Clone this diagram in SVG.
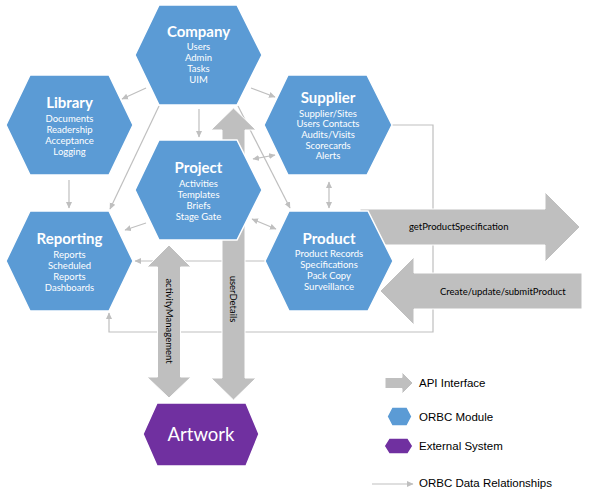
<svg xmlns="http://www.w3.org/2000/svg" width="591" height="494" viewBox="0 0 591 494">
<defs>
<marker id="ah" markerUnits="userSpaceOnUse" markerWidth="7" markerHeight="7" refX="6" refY="3.5" orient="auto-start-reverse">
<path d="M0,0.5 L6.5,3.5 L0,6.5 Z" fill="#BFBFBF"/>
</marker>
<style>
.hex{fill:#5B9BD5;stroke:#FFFFFF;stroke-width:1.5}
.ext{fill:#7030A0;stroke:#FFFFFF;stroke-width:1.5}
.api{fill:#BFBFBF;stroke:#FFFFFF;stroke-width:1}
.con{fill:none;stroke:#BFBFBF;stroke-width:1.2}
.title{font-family:Lato,"Liberation Sans",sans-serif;font-weight:bold;font-size:15px;fill:#FFFFFF;text-anchor:middle}
.sub{font-family:Lato,"Liberation Sans",sans-serif;font-size:9.5px;fill:#FFFFFF;text-anchor:middle}
.lbl{font-family:Lato,"Liberation Sans",sans-serif;font-size:9.5px;fill:#000000}
.leg{font-family:"Liberation Sans",Arial,sans-serif;font-size:11.5px;fill:#000000}
</style>
</defs>
<rect width="591" height="494" fill="#FFFFFF"/>
<g id="connectors">
<path class="con" d="M146,88 L122,99" marker-end="url(#ah)"/>
<path class="con" d="M251,88 L275,97" marker-end="url(#ah)"/>
<path class="con" d="M199,109 L199,137" marker-end="url(#ah)"/>
<path class="con" d="M159,106 L110,209" marker-end="url(#ah)"/>
<path class="con" d="M238,106 L290,208" marker-end="url(#ah)"/>
<path class="con" d="M69,180 L69,208" marker-end="url(#ah)"/>
<path class="con" d="M253,159 L275,155" marker-start="url(#ah)" marker-end="url(#ah)"/>
<path class="con" d="M252,219 L276,229" marker-start="url(#ah)" marker-end="url(#ah)"/>
<path class="con" d="M146,223 L125,230" marker-end="url(#ah)"/>
<path class="con" d="M329,182 L329,208" marker-start="url(#ah)" marker-end="url(#ah)"/>
<path class="con" d="M267,261 L135,261" marker-end="url(#ah)"/>
<path class="con" d="M392,125 L433,125 L433,332 L109,332 L109,313" marker-end="url(#ah)"/>
</g>
<g id="api-arrows">
<path class="api" d="M233.5,108 L256,130 L245,130 L245,378 L256,378 L233.5,400 L211,378 L222,378 L222,130 L211,130 Z"/>
<path class="api" d="M169,245 L191,267 L180.5,267 L180.5,377 L191,377 L169,398 L147,377 L157.5,377 L157.5,267 L147,267 Z"/>
<path class="api" d="M360,209 L545,209 L545,192 L580,227 L545,262 L545,245 L360,245 Z"/>
<path class="api" d="M582,273 L414,273 L414,257 L380,291 L414,325 L414,309 L582,309 Z"/>
<text class="lbl" transform="translate(165.5,321) rotate(90)" text-anchor="middle">activityManagement</text>
<text class="lbl" transform="translate(230,299) rotate(90)" text-anchor="middle">userDetails</text>
<text class="lbl" x="409" y="230">getProductSpecification</text>
<text class="lbl" x="440" y="294.5">Create/update/submitProduct</text>
</g>
<g id="company">
<polygon class="hex" points="135,55 159,5 237,5 262,55 237,105 159,105"/>
<text class="title" x="198.5" y="37">Company</text>
<text class="sub" x="198.5" y="49.5">Users</text>
<text class="sub" x="198.5" y="60.5">Admin</text>
<text class="sub" x="198.5" y="71.5">Tasks</text>
<text class="sub" x="198.5" y="82.5">UIM</text>
</g>
<g id="library">
<polygon class="hex" points="6,125 30,75 109,75 133,125 109,175 30,175"/>
<text class="title" x="69.5" y="108">Library</text>
<text class="sub" x="69.5" y="121.5">Documents</text>
<text class="sub" x="69.5" y="132.5">Readership</text>
<text class="sub" x="69.5" y="143.5">Acceptance</text>
<text class="sub" x="69.5" y="154.5">Logging</text>
</g>
<g id="project">
<polygon class="hex" points="135,190 159,140 237,140 262,190 237,240 159,240"/>
<text class="title" x="198.5" y="173">Project</text>
<text class="sub" x="198.5" y="186.5">Activities</text>
<text class="sub" x="198.5" y="197.5">Templates</text>
<text class="sub" x="198.5" y="208.5">Briefs</text>
<text class="sub" x="198.5" y="219.5">Stage Gate</text>
</g>
<g id="reporting">
<polygon class="hex" points="6,261 30,211 109,211 133,261 109,311 30,311"/>
<text class="title" x="69.5" y="244">Reporting</text>
<text class="sub" x="69.5" y="257.5">Reports</text>
<text class="sub" x="69.5" y="268.5">Scheduled</text>
<text class="sub" x="69.5" y="279.5">Reports</text>
<text class="sub" x="69.5" y="290.5">Dashboards</text>
</g>
<g id="supplier">
<polygon class="hex" points="264,125 288,75 367,75 392,125 367,175 288,175"/>
<text class="title" x="328" y="103">Supplier</text>
<text class="sub" x="328" y="116.5">Supplier/Sites</text>
<text class="sub" x="328" y="127.2">Users Contacts</text>
<text class="sub" x="328" y="137.9">Audits/Visits</text>
<text class="sub" x="328" y="148.6">Scorecards</text>
<text class="sub" x="328" y="159.3">Alerts</text>
</g>
<g id="product">
<polygon class="hex" points="265,261 289,211 368,211 393,261 368,311 289,311"/>
<text class="title" x="329" y="244">Product</text>
<text class="sub" x="329" y="256.5">Product Records</text>
<text class="sub" x="329" y="267.5">Specifications</text>
<text class="sub" x="329" y="278.5">Pack Copy</text>
<text class="sub" x="329" y="290">Surveillance</text>
</g>
<g id="artwork">
<polygon class="ext" points="143,434 157,403 246,403 259,434 246,466 157,466"/>
<text x="201" y="440.5" font-family="Lato,'Liberation Sans',sans-serif" font-size="18.5" fill="#FFFFFF" text-anchor="middle">Artwork</text>
</g>
<g id="legend">
<path class="api" d="M385,377.5 L402,377.5 L402,372 L413,383 L402,394 L402,388.5 L385,388.5 Z"/>
<text class="leg" x="419" y="386.5">API Interface</text>
<polygon class="hex" points="387,416.5 392,407 407,407 412,416.5 407,426 392,426"/>
<text class="leg" x="419" y="420.5">ORBC Module</text>
<polygon class="ext" points="384,446 389,438 408,438 413,446 408,454 389,454"/>
<text class="leg" x="419" y="450">External System</text>
<path class="con" d="M372,484 L413,484" marker-end="url(#ah)"/>
<text class="leg" x="419" y="487">ORBC Data Relationships</text>
</g>
</svg>
